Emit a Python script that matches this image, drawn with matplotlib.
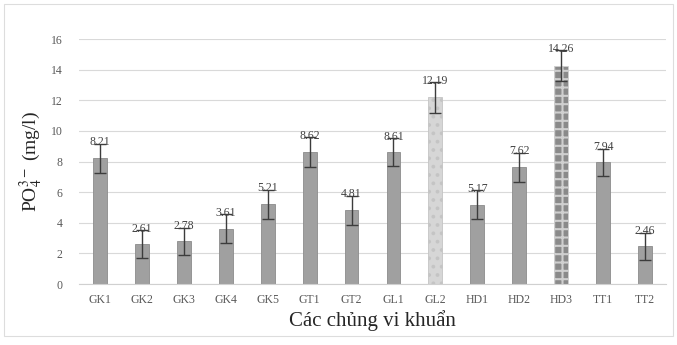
import matplotlib
matplotlib.use('Agg')
import matplotlib.pyplot as plt
import numpy as np
from matplotlib.patches import Rectangle

plt.rcParams['font.family'] = ['Liberation Serif', 'DejaVu Serif']
plt.rcParams['mathtext.fontset'] = 'stix'
plt.rcParams['hatch.linewidth'] = 1.5

strains = ['GK1', 'GK2', 'GK3', 'GK4', 'GK5', 'GT1', 'GT2', 'GL1',
           'GL2', 'HD1', 'HD2', 'HD3', 'TT1', 'TT2']
po4 = [8.21, 2.61, 2.78, 3.61, 5.21, 8.62, 4.81, 8.61,
       12.19, 5.17, 7.62, 14.26, 7.94, 2.46]
errs = [0.95, 0.9, 0.9, 0.95, 0.95, 0.95, 0.95, 0.9,
        1.0, 0.95, 0.95, 1.0, 0.9, 0.9]
yticks = [0, 2, 4, 6, 8, 10, 12, 14, 16]

fig = plt.figure(figsize=(6.77, 3.45), dpi=100)
fig.patches.append(Rectangle((0.006, 0.025), 0.988, 0.962, transform=fig.transFigure,
                             fill=False, edgecolor='#dddddd', linewidth=0.8))
ax = fig.add_axes([0.1167, 0.1768, 0.867, 0.710])

x = np.arange(len(strains))
colors = ['#a0a0a0'] * len(strains)
colors[8] = '#d6d6d6'
colors[11] = '#8a8a8a'
bars = ax.bar(x, po4, width=0.33, color=colors, edgecolor='#8c8c8c', linewidth=0.6, zorder=2)
bars[8].set_hatch('..')
bars[8].set_edgecolor('#c4c4c4')
bars[11].set_hatch('++')
bars[11].set_edgecolor('#cfcfcf')

ax.errorbar(x, po4, yerr=errs, fmt='none', ecolor='#3c3c3c', elinewidth=1.0,
            capsize=4, capthick=1.0, zorder=3)

for xi, v, e in zip(x, po4, errs):
    ax.text(xi, v + e + 0.1, f'{v:.2f}', ha='center', va='center',
            fontsize=8.5, color='#404040', zorder=4)

ax.set_xlim(-0.5, len(strains) - 0.5)
ax.set_ylim(0, 16)
ax.set_yticks(yticks)
ax.set_xticks(x)
ax.set_xticklabels(strains)
ax.tick_params(axis='both', length=0, labelsize=8.5, colors='#595959')
ax.tick_params(axis='y', pad=12)
ax.tick_params(axis='x', pad=7)
ax.grid(axis='y', color='#d9d9d9', linewidth=0.8, zorder=0)
for s in ['top', 'right', 'left']:
    ax.spines[s].set_visible(False)
ax.spines['bottom'].set_color('#d0d0d0')

ax.set_ylabel(r'PO$_4^{3-}$ (mg/l)', fontsize=14, color='#262626', labelpad=4)
ax.set_xlabel('Các chủng vi khuẩn', fontsize=15, color='#262626', labelpad=3)

fig.savefig('out.png', dpi=100)
